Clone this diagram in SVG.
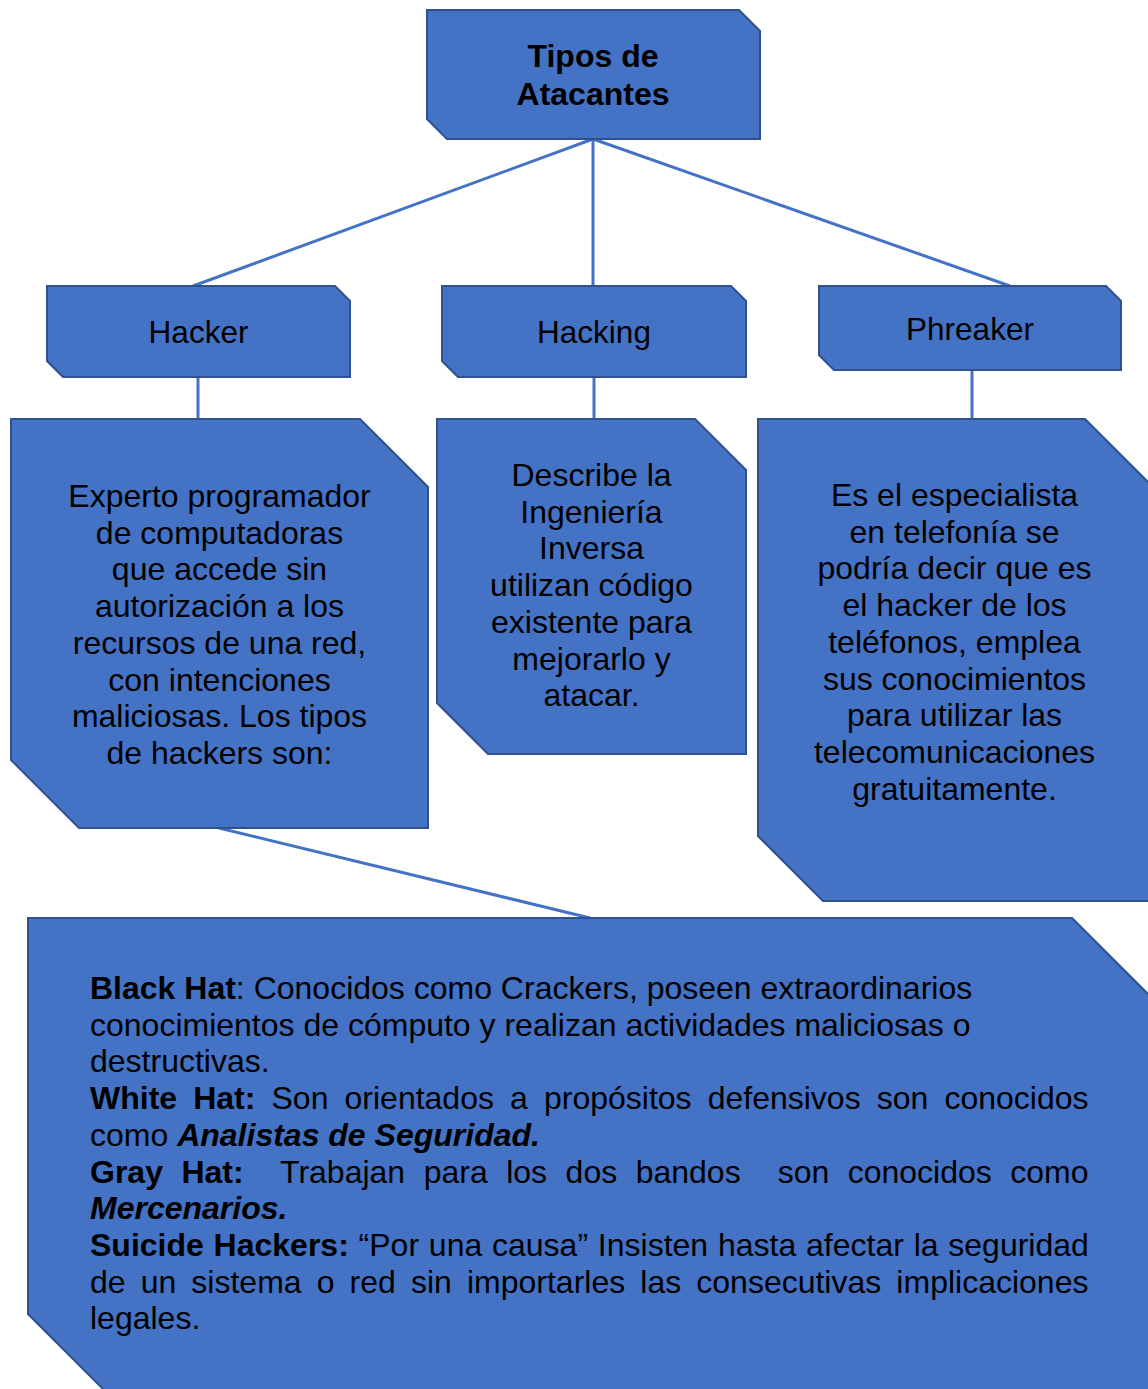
<svg xmlns="http://www.w3.org/2000/svg" width="1148" height="1389" viewBox="0 0 1148 1389">
  <style>
    .box { fill: #4472C4; stroke: #2F528F; stroke-width: 2; stroke-linejoin: miter; }
    .link { stroke: #4472C4; stroke-width: 3; fill: none; }
    text { font-family: "Liberation Sans", Arial, sans-serif; fill: #000000; }
    .title { font-size: 32px; font-weight: bold; text-anchor: middle; }
    .label { font-size: 31.5px; text-anchor: middle; }
    .desc { font-size: 32px; text-anchor: middle; }
    .body { font-size: 32px; }
    .b { font-weight: bold; }
    .bi { font-weight: bold; font-style: italic; }
  </style>

  <rect width="1148" height="1389" fill="#FFFFFF"/>

  <!-- connectors -->
  <g id="connectors">
    <line class="link" x1="593" y1="139" x2="193" y2="286"/>
    <line class="link" x1="593" y1="139" x2="593" y2="286"/>
    <line class="link" x1="593" y1="139" x2="1010" y2="286"/>
    <line class="link" x1="198" y1="377" x2="198" y2="419"/>
    <line class="link" x1="594" y1="377" x2="594" y2="419"/>
    <line class="link" x1="972" y1="370" x2="972" y2="419"/>
    <line class="link" x1="219" y1="828" x2="590" y2="918"/>
  </g>

  <!-- root -->
  <g id="tipos">
    <polygon class="box" points="427,10 739,10 760,31 760,139 447,139 427,119"/>
    <text class="title" x="593" y="67">Tipos de</text>
    <text class="title" x="593" y="105">Atacantes</text>
  </g>

  <!-- category headers -->
  <g id="hacker">
    <polygon class="box" points="47,286 335,286 350,301 350,377 63,377 47,361"/>
    <text class="label" x="198.5" y="343">Hacker</text>
  </g>
  <g id="hacking">
    <polygon class="box" points="442,286 731,286 746,301 746,377 458,377 442,361"/>
    <text class="label" x="594" y="343">Hacking</text>
  </g>
  <g id="phreaker">
    <polygon class="box" points="819,286 1106,286 1121,301 1121,370 834,370 819,355"/>
    <text class="label" x="970" y="340">Phreaker</text>
  </g>

  <!-- descriptions -->
  <g id="hacker-desc">
    <polygon class="box" points="11,419 360,419 428,487 428,828 79,828 11,760"/>
    <text class="desc" x="219.5" y="507">Experto programador</text>
    <text class="desc" x="219.5" y="543.7">de computadoras</text>
    <text class="desc" x="219.5" y="580.4">que accede sin</text>
    <text class="desc" x="219.5" y="617.1">autorización a los</text>
    <text class="desc" x="219.5" y="653.8">recursos de una red,</text>
    <text class="desc" x="219.5" y="690.5">con intenciones</text>
    <text class="desc" x="219.5" y="727.2">maliciosas. Los tipos</text>
    <text class="desc" x="219.5" y="763.9">de hackers son:</text>
  </g>
  <g id="hacking-desc">
    <polygon class="box" points="437,419 695,419 746,470 746,754 488,754 437,703"/>
    <text class="desc" x="591.5" y="486">Describe la</text>
    <text class="desc" x="591.5" y="522.7">Ingeniería</text>
    <text class="desc" x="591.5" y="559.4">Inversa</text>
    <text class="desc" x="591.5" y="596.1">utilizan código</text>
    <text class="desc" x="591.5" y="632.8">existente para</text>
    <text class="desc" x="591.5" y="669.5">mejorarlo y</text>
    <text class="desc" x="591.5" y="706.2">atacar.</text>
  </g>
  <g id="phreaker-desc">
    <polygon class="box" points="758,419 1085,419 1151,485 1151,901 823,901 758,836"/>
    <text class="desc" x="954.5" y="506">Es el especialista</text>
    <text class="desc" x="954.5" y="542.7">en telefonía se</text>
    <text class="desc" x="954.5" y="579.4">podría decir que es</text>
    <text class="desc" x="954.5" y="616.1">el hacker de los</text>
    <text class="desc" x="954.5" y="652.8">teléfonos, emplea</text>
    <text class="desc" x="954.5" y="689.5">sus conocimientos</text>
    <text class="desc" x="954.5" y="726.2">para utilizar las</text>
    <text class="desc" x="954.5" y="762.9">telecomunicaciones</text>
    <text class="desc" x="954.5" y="799.6">gratuitamente.</text>
  </g>

  <!-- hacker types; justified lines use word-spacing to reach the right margin -->
  <g id="tipos-hackers">
    <polygon class="box" points="28,918 1072,918 1152,998 1152,1394 108,1394 28,1314"/>
    <text class="body" x="90" y="999"><tspan class="b">Black Hat</tspan>: Conocidos como Crackers, poseen extraordinarios</text>
    <text class="body" x="90" y="1035.7">conocimientos de cómputo y realizan actividades maliciosas o</text>
    <text class="body" x="90" y="1072.4">destructivas.</text>
    <text class="body" x="90" y="1109.1" word-spacing="7.2"><tspan class="b">White Hat:</tspan> Son orientados a propósitos defensivos son conocidos</text>
    <text class="body" x="90" y="1145.8">como <tspan class="bi">Analistas de Seguridad.</tspan></text>
    <text class="body" x="90" y="1182.5" word-spacing="9.6" xml:space="preserve"><tspan class="b">Gray Hat:</tspan>  Trabajan para los dos bandos  son conocidos como</text>
    <text class="body" x="90" y="1219.2"><tspan class="bi">Mercenarios.</tspan></text>
    <text class="body" x="90" y="1255.9" word-spacing="0.9"><tspan class="b">Suicide Hackers:</tspan> “Por una causa” Insisten hasta afectar la seguridad</text>
    <text class="body" x="90" y="1292.6" word-spacing="6.2">de un sistema o red sin importarles las consecutivas implicaciones</text>
    <text class="body" x="90" y="1329.3">legales.</text>
  </g>
</svg>
